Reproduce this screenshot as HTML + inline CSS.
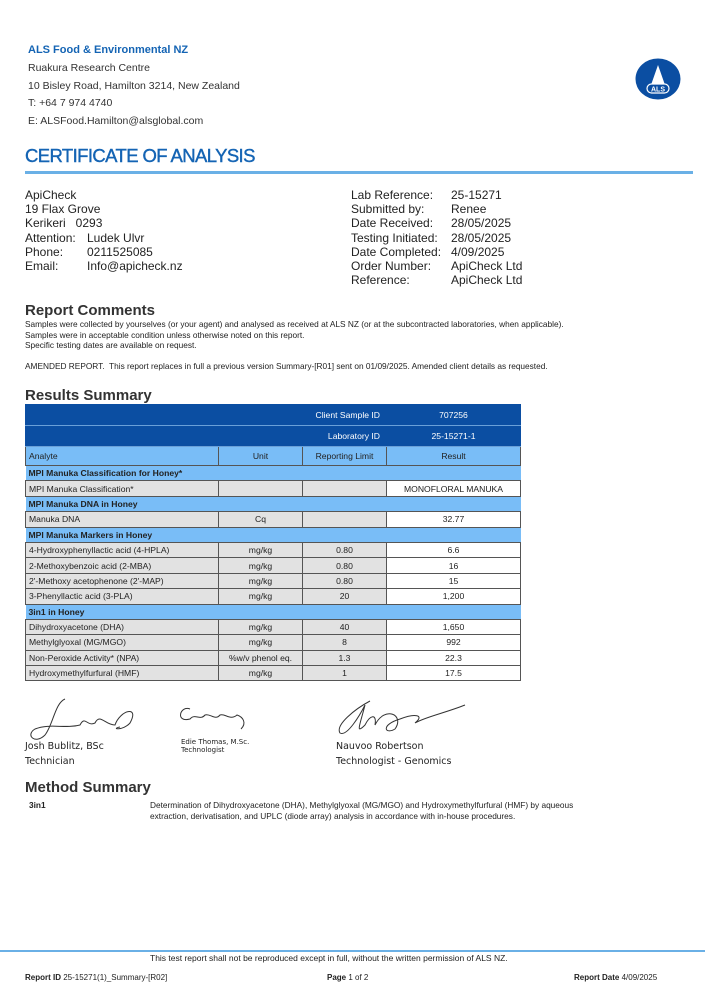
<!DOCTYPE html>
<html><head><meta charset="utf-8"><style>
body{margin:0;width:705px;height:1000px;background:#fff;position:relative;font-family:"Liberation Sans",sans-serif;color:#222;overflow:hidden}
.a{position:absolute;white-space:nowrap}
.hd{font-size:11px;line-height:14px;color:#333}
table{position:absolute;left:25px;top:404px;width:495px;border-collapse:collapse;font-size:8.6px;table-layout:fixed}
td{border:1px solid #555;padding:0 3px;height:14.4px;line-height:14px;overflow:hidden}
.dk td{background:#0b4ea2;color:#fff;border-color:#0b4ea2;height:20px;text-align:center;border-bottom:1px solid #6aa0d8}
.lb td{background:#79bdf7;border-color:#555}
.sec td{background:#79bdf7;font-weight:bold;border-left:none;border-right:none}
.g{background:#e2e2e2}
.c{text-align:center}
.w{background:#fff;text-align:center}
.sig{font-family:"DejaVu Sans",sans-serif;font-size:9.5px;color:#222}
.ft{font-size:8px;color:#222}
</style></head><body>
<div class="a" style="left:28px;top:44px;font-size:11px;font-weight:bold;color:#1464b4">ALS Food &amp; Environmental NZ</div>
<div class="a hd" style="left:28px;top:60px;line-height:17.5px;font-size:10.5px">Ruakura Research Centre<br>10 Bisley Road, Hamilton 3214, New Zealand<br>T: +64 7 974 4740<br>E: ALSFood.Hamilton@alsglobal.com</div>
<svg class="a" style="left:634px;top:58px" width="48" height="42"><ellipse cx="24" cy="21" rx="22.5" ry="20.5" fill="#0b4ea2"/><path d="M24 7 L17 27 L31 27Z" fill="#fff"/><rect x="13" y="26" width="22" height="9" rx="4.5" fill="#0b4ea2" stroke="#fff" stroke-width="1.2"/><text x="24" y="33.5" font-size="7" font-weight="bold" fill="#fff" text-anchor="middle" font-family="Liberation Sans">ALS</text></svg>
<div class="a" style="left:25px;top:145px;font-size:18.5px;color:#1464b4;letter-spacing:-0.6px;-webkit-text-stroke:0.4px #1464b4">CERTIFICATE OF ANALYSIS</div>
<div class="a" style="left:25px;top:171px;width:668px;height:3px;background:#6ab0e6"></div>

<div class="a" style="left:25px;top:188px;font-size:12px;line-height:14.2px">ApiCheck<br>19 Flax Grove<br>Kerikeri&nbsp;&nbsp;&nbsp;0293</div>
<div class="a" style="left:25px;top:231px;font-size:12px;line-height:14.2px">Attention:<br>Phone:<br>Email:</div>
<div class="a" style="left:87px;top:231px;font-size:12px;line-height:14.2px">Ludek Ulvr<br>0211525085<br>Info@apicheck.nz</div>
<div class="a" style="left:351px;top:188px;font-size:12px;line-height:14.2px">Lab Reference:<br>Submitted by:<br>Date Received:<br>Testing Initiated:<br>Date Completed:<br>Order Number:<br>Reference:</div>
<div class="a" style="left:451px;top:188px;font-size:12px;line-height:14.2px">25-15271<br>Renee<br>28/05/2025<br>28/05/2025<br>4/09/2025<br>ApiCheck Ltd<br>ApiCheck Ltd</div>

<div class="a" style="left:25px;top:302px;font-size:15px;font-weight:bold;color:#333">Report Comments</div>
<div class="a" style="left:25px;top:319px;font-size:8.3px;line-height:10.5px">Samples were collected by yourselves (or your agent) and analysed as received at ALS NZ (or at the subcontracted laboratories, when applicable).<br>Samples were in acceptable condition unless otherwise noted on this report.<br>Specific testing dates are available on request.</div>
<div class="a" style="left:25px;top:361px;font-size:8.3px">AMENDED REPORT.&nbsp; This report replaces in full a previous version Summary-[R01] sent on 01/09/2025. Amended client details as requested.</div>
<div class="a" style="left:25px;top:387px;font-size:15px;font-weight:bold;color:#333">Results Summary</div>

<table>
<colgroup><col style="width:193px"><col style="width:84px"><col style="width:84px"><col style="width:134px"></colgroup>
<tr class="dk"><td colspan="3" style="text-align:right;padding-right:6px">Client Sample ID</td><td>707256</td></tr>
<tr class="dk"><td colspan="3" style="text-align:right;padding-right:6px">Laboratory ID</td><td>25-15271-1</td></tr>
<tr class="lb"><td style="height:18px">Analyte</td><td class="c">Unit</td><td class="c">Reporting Limit</td><td class="c">Result</td></tr>
<tr class="sec"><td colspan="4">MPI Manuka Classification for Honey*</td></tr>
<tr><td class="g">MPI Manuka Classification*</td><td class="g"></td><td class="g"></td><td class="w">MONOFLORAL MANUKA</td></tr>
<tr class="sec"><td colspan="4">MPI Manuka DNA in Honey</td></tr>
<tr><td class="g">Manuka DNA</td><td class="g c">Cq</td><td class="g"></td><td class="w">32.77</td></tr>
<tr class="sec"><td colspan="4">MPI Manuka Markers in Honey</td></tr>
<tr><td class="g">4-Hydroxyphenyllactic acid (4-HPLA)</td><td class="g c">mg/kg</td><td class="g c">0.80</td><td class="w">6.6</td></tr>
<tr><td class="g">2-Methoxybenzoic acid (2-MBA)</td><td class="g c">mg/kg</td><td class="g c">0.80</td><td class="w">16</td></tr>
<tr><td class="g">2'-Methoxy acetophenone (2'-MAP)</td><td class="g c">mg/kg</td><td class="g c">0.80</td><td class="w">15</td></tr>
<tr><td class="g">3-Phenyllactic acid (3-PLA)</td><td class="g c">mg/kg</td><td class="g c">20</td><td class="w">1,200</td></tr>
<tr class="sec"><td colspan="4">3in1 in Honey</td></tr>
<tr><td class="g">Dihydroxyacetone (DHA)</td><td class="g c">mg/kg</td><td class="g c">40</td><td class="w">1,650</td></tr>
<tr><td class="g">Methylglyoxal (MG/MGO)</td><td class="g c">mg/kg</td><td class="g c">8</td><td class="w">992</td></tr>
<tr><td class="g">Non-Peroxide Activity* (NPA)</td><td class="g c">%w/v phenol eq.</td><td class="g c">1.3</td><td class="w">22.3</td></tr>
<tr><td class="g">Hydroxymethylfurfural (HMF)</td><td class="g c">mg/kg</td><td class="g c">1</td><td class="w">17.5</td></tr>
</table>

<svg class="a" style="left:25px;top:695px" width="460" height="50" fill="none" stroke="#333" stroke-width="1">
<path d="M40 4 C30 8 28 30 20 40 C10 50 0 40 10 34 C25 28 40 34 55 30 C60 20 62 32 70 28 C75 18 80 30 90 30 C95 15 115 10 105 28 C98 36 85 34 95 32"/>
<path d="M165 14 C155 10 150 28 165 24 C170 18 175 26 180 20 C185 18 190 26 195 20 C200 18 205 26 212 20 C218 22 222 28 216 34"/>
<path d="M345 6 C330 14 310 30 315 38 C322 42 335 20 340 10 C335 30 330 40 340 30 C345 20 352 18 350 30 C360 10 380 20 370 34 C360 40 355 30 375 24 C390 18 400 20 390 28 C400 22 420 18 440 10"/>
</svg>
<div class="a sig" style="left:25px;top:739px;line-height:15px">Josh Bublitz, BSc<br>Technician</div>
<div class="a sig" style="left:181px;top:738px;font-size:7px;line-height:8px">Edie Thomas, M.Sc.<br>Technologist</div>
<div class="a sig" style="left:336px;top:739px;line-height:15px">Nauvoo Robertson<br>Technologist - Genomics</div>

<div class="a" style="left:25px;top:779px;font-size:15px;font-weight:bold;color:#333">Method Summary</div>
<div class="a" style="left:29px;top:800px;font-size:8.3px;font-weight:bold">3in1</div>
<div class="a" style="left:150px;top:800px;font-size:8.3px;line-height:11px">Determination of Dihydroxyacetone (DHA), Methylglyoxal (MG/MGO) and Hydroxymethylfurfural (HMF) by aqueous<br>extraction, derivatisation, and UPLC (diode array) analysis in accordance with in-house procedures.</div>

<div class="a" style="left:0;top:950px;width:705px;height:2px;background:#6ab0e6"></div>
<div class="a ft" style="left:150px;top:953px;font-size:8.5px">This test report shall not be reproduced except in full, without the written permission of ALS NZ.</div>
<div class="a ft" style="left:25px;top:973px"><b>Report ID</b> 25-15271(1)_Summary-[R02]</div>
<div class="a ft" style="left:327px;top:973px"><b>Page</b> 1 of 2</div>
<div class="a ft" style="left:574px;top:973px"><b>Report Date</b> 4/09/2025</div>
</body></html>
